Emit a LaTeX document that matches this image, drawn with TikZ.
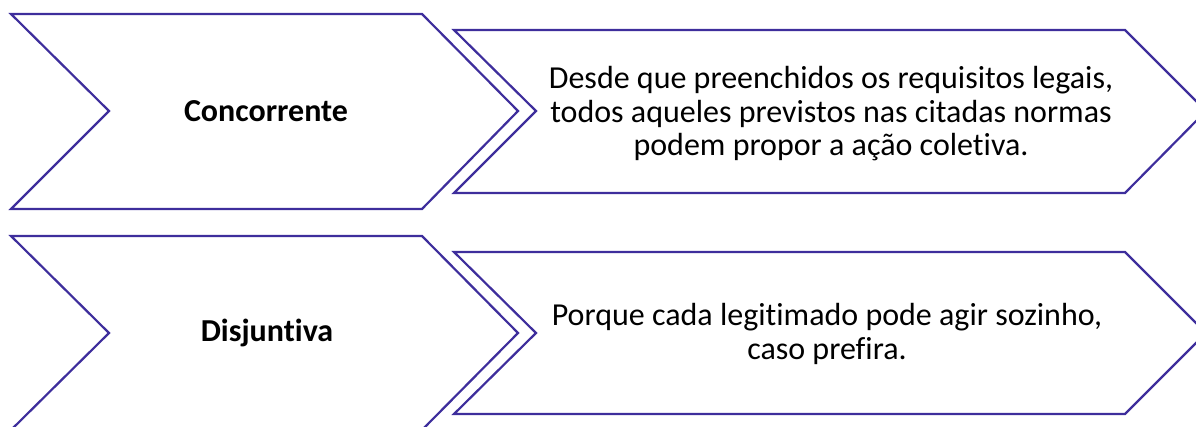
\documentclass[tikz,border=0pt]{standalone}
\usepackage{fontspec}
\setmainfont{Carlito}[RawFeature=-liga]
\definecolor{chevline}{RGB}{62,46,156}
\tikzset{
  chev/.style={draw=chevline, line width=2.2pt, line join=miter, fill=white},
  lbl/.style={font=\fontsize{32}{38}\selectfont\bfseries, text=black, align=center},
  desc/.style={font=\fontsize{32}{33.5}\selectfont, text=black, align=center}
}
\begin{document}
\begin{tikzpicture}[x=1pt,y=-1pt]
\useasboundingbox (0,0) rectangle (1196,427);
\clip (0,0) rectangle (1196,427);
% row 1
\draw[chev] (11,14) -- (422,14) -- (518,111) -- (422,209) -- (11,209) -- (109,111) -- cycle;
\draw[chev] (454,30) -- (1125,30) -- (1206,111) -- (1125,193) -- (454,193) -- (536,111) -- cycle;
\node[lbl] (c1) at (266,111) {Concorrente};
\node[desc] (d1) at (831,114) {Desde que preenchidos os requisitos legais,\\todos aqueles previstos nas citadas normas\\podem propor a ação coletiva.};
% row 2
\draw[chev] (11,236) -- (422,236) -- (518,333) -- (422,430) -- (11,430) -- (109,333) -- cycle;
\draw[chev] (454,252) -- (1125,252) -- (1206,333) -- (1125,414) -- (454,414) -- (536,333) -- cycle;
\node[lbl] (c2) at (267,333) {Disjuntiva};
\node[desc] (d2) at (827,334) {Porque cada legitimado pode agir sozinho,\\caso prefira.};
\end{tikzpicture}
\end{document}
